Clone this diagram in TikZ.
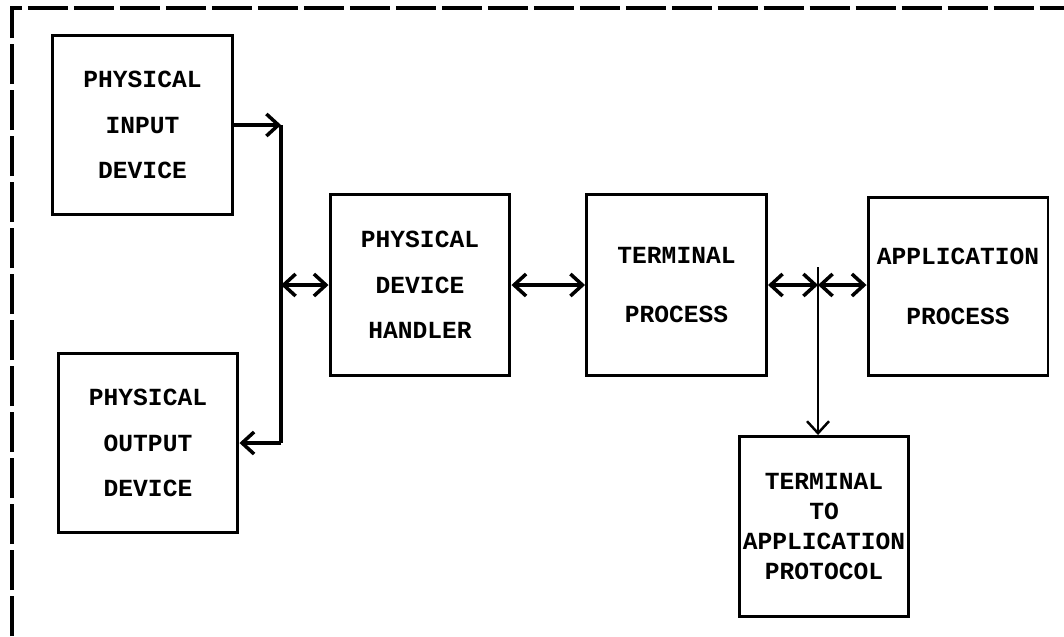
\documentclass[tikz,border=0pt]{standalone}
\usepackage{fontspec}
\setmonofont{Liberation Mono}
\usepackage{tikz}
\usetikzlibrary{arrows.meta}

\begin{document}
\begin{tikzpicture}[
  x=0.02cm, y=-0.02cm,
  font=\ttfamily\bfseries\fontsize{14}{26}\selectfont,
  box/.style={draw,line width=1.7pt,align=center,minimum width=3.6cm,minimum height=3.6cm,inner sep=2pt},
  wide/.style={font=\ttfamily\bfseries\fontsize{14}{34}\selectfont},
  tight/.style={font=\ttfamily\bfseries\fontsize{14}{17}\selectfont},
  arr/.style={-{Straight Barb[length=2.4mm,width=4.4mm]},line width=2pt},
  biarr/.style={{Straight Barb[length=2.4mm,width=4.4mm]}-{Straight Barb[length=2.4mm,width=4.4mm]},line width=2pt},
  frame/.style={line width=2.4pt,dash pattern=on 0.8cm off 0.12cm}
]
  \useasboundingbox (0,0) rectangle (1064,636);
  \draw[frame] (12,636) -- (12,8) -- (1064,8);

  \node[box] (indev) at (142.5,125) {PHYSICAL\\INPUT\\DEVICE};
  \node[box] (outdev) at (148,443) {PHYSICAL\\OUTPUT\\DEVICE};
  \node[box,minimum height=3.64cm] (handler) at (420,285) {PHYSICAL\\DEVICE\\HANDLER};
  \node[box,wide,minimum height=3.64cm] (termproc) at (676.5,285) {TERMINAL\\PROCESS};
  \node[box,wide,minimum height=3.56cm] (appproc) at (958,286.5) {APPLICATION\\PROCESS};
  \node[box,tight,minimum width=3.36cm] (proto) at (824,526.5) {TERMINAL\\TO\\APPLICATION\\PROTOCOL};

  \coordinate (bustop) at (281,125);
  \coordinate (busbot) at (281,443);
  \coordinate (busmid) at (281,285);
  \coordinate (jn) at (818,285);
  \coordinate (jtop) at (818,267);

  \draw[arr] (indev.east) -- (bustop);
  \draw[line width=2pt] (bustop) -- (busbot);
  \draw[arr] (busbot) -- (outdev.east);
  \draw[biarr] (busmid) -- (handler.west);
  \draw[biarr] (handler.east) -- (termproc.west);
  \draw[biarr] (termproc.east) -- (jn);
  \draw[biarr] (jn) -- (jn -| appproc.west);
  \draw[arr,line width=1.4pt] (jtop) -- (jtop |- proto.north);
\end{tikzpicture}
\end{document}
